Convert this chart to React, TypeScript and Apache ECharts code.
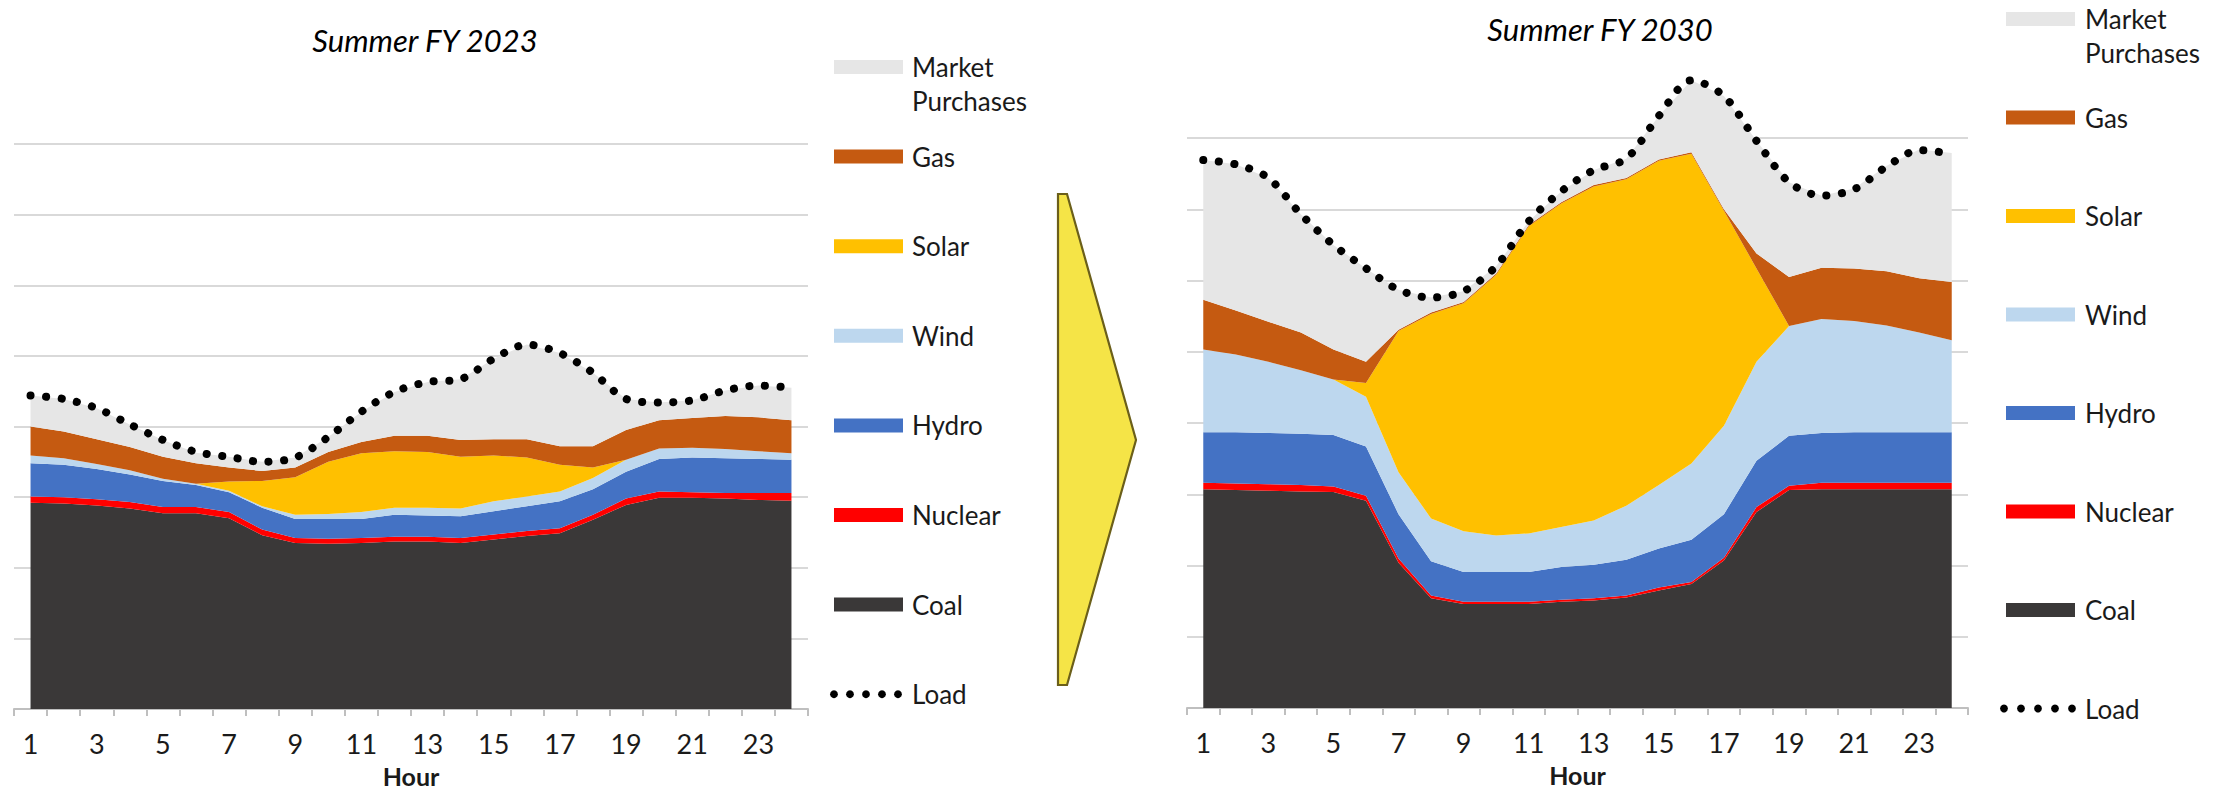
import React, { useEffect, useRef } from 'react';
import * as echarts from 'echarts';

// ---------- data ----------
const hours = ['1','2','3','4','5','6','7','8','9','10','11','12','13','14','15','16','17','18','19','20','21','22','23','24'];
const seriesNames = ['Coal', 'Nuclear', 'Hydro', 'Wind', 'Solar', 'Gas', 'Market Purchases'];
const seriesColors = ['#3A3838', '#FF0000', '#4472C4', '#BDD7EE', '#FFC000', '#C55A11', '#E6E6E6'];
const legendLabels = ['Market\nPurchases', 'Gas', 'Solar', 'Wind', 'Hydro', 'Nuclear', 'Coal', 'Load'];
const legendColors = ['#E6E6E6', '#C55A11', '#FFC000', '#BDD7EE', '#4472C4', '#FF0000', '#3A3838', '#000000'];
const titles = ['Summer FY 2023', 'Summer FY 2030'];

// Summer FY 2023
const coal2023 = [2.92, 2.91, 2.88, 2.84, 2.77, 2.77, 2.70, 2.46, 2.35, 2.34, 2.35, 2.37, 2.37, 2.35, 2.40, 2.45, 2.49, 2.68, 2.89, 2.99, 2.99, 2.98, 2.96, 2.95];
const nuclear2023 = [0.09, 0.09, 0.09, 0.09, 0.09, 0.09, 0.09, 0.08, 0.07, 0.07, 0.07, 0.07, 0.07, 0.07, 0.07, 0.07, 0.07, 0.07, 0.09, 0.09, 0.08, 0.08, 0.10, 0.11];
const hydro2023 = [0.47, 0.46, 0.43, 0.39, 0.37, 0.31, 0.28, 0.31, 0.27, 0.28, 0.27, 0.31, 0.30, 0.31, 0.33, 0.35, 0.38, 0.36, 0.38, 0.46, 0.49, 0.49, 0.48, 0.47];
const wind2023 = [0.11, 0.09, 0.07, 0.06, 0.03, 0.02, 0.02, 0.02, 0.06, 0.07, 0.10, 0.10, 0.11, 0.11, 0.14, 0.14, 0.14, 0.16, 0.17, 0.15, 0.14, 0.13, 0.11, 0.09];
const solar2023 = [0, 0, 0, 0, 0, 0, 0.13, 0.36, 0.53, 0.74, 0.83, 0.80, 0.79, 0.73, 0.65, 0.55, 0.38, 0.15, 0, 0, 0, 0, 0, 0];
const gas2023 = [0.41, 0.38, 0.35, 0.33, 0.31, 0.29, 0.20, 0.14, 0.14, 0.14, 0.16, 0.22, 0.23, 0.24, 0.23, 0.26, 0.26, 0.30, 0.42, 0.40, 0.42, 0.47, 0.48, 0.47];
const market2023 = [0.44, 0.46, 0.44, 0.32, 0.24, 0.15, 0.15, 0.13, 0.14, 0.21, 0.43, 0.62, 0.76, 0.86, 1.14, 1.34, 1.32, 1.04, 0.44, 0.25, 0.25, 0.36, 0.45, 0.46];
const load2023 = [4.44, 4.39, 4.26, 4.03, 3.81, 3.64, 3.57, 3.50, 3.56, 3.85, 4.21, 4.49, 4.63, 4.67, 4.96, 5.16, 5.04, 4.76, 4.39, 4.34, 4.37, 4.51, 4.58, 4.55];

// Summer FY 2030
const coal2030 = [3.07, 3.06, 3.05, 3.04, 3.03, 2.91, 2.04, 1.54, 1.46, 1.46, 1.46, 1.49, 1.51, 1.55, 1.65, 1.74, 2.07, 2.75, 3.06, 3.07, 3.07, 3.07, 3.07, 3.07];
const nuclear2030 = [0.09, 0.09, 0.09, 0.09, 0.08, 0.07, 0.06, 0.04, 0.03, 0.03, 0.03, 0.03, 0.03, 0.03, 0.04, 0.03, 0.04, 0.07, 0.06, 0.09, 0.09, 0.09, 0.09, 0.09];
const hydro2030 = [0.71, 0.72, 0.72, 0.72, 0.72, 0.69, 0.62, 0.48, 0.42, 0.42, 0.42, 0.46, 0.47, 0.50, 0.55, 0.59, 0.61, 0.65, 0.70, 0.70, 0.71, 0.71, 0.71, 0.71];
const wind2030 = [1.16, 1.09, 1.00, 0.89, 0.78, 0.70, 0.59, 0.60, 0.57, 0.51, 0.54, 0.56, 0.62, 0.76, 0.89, 1.07, 1.24, 1.39, 1.54, 1.60, 1.56, 1.50, 1.40, 1.29];
const solar2030 = [0, 0, 0, 0, 0, 0.19, 1.98, 2.87, 3.20, 3.66, 4.31, 4.54, 4.69, 4.58, 4.55, 4.35, 3.02, 1.31, 0, 0, 0, 0, 0, 0];
const gas2030 = [0.70, 0.62, 0.56, 0.53, 0.42, 0.30, 0.02, 0.02, 0.02, 0.02, 0.02, 0.02, 0.02, 0.02, 0.02, 0.02, 0.02, 0.21, 0.69, 0.72, 0.74, 0.76, 0.76, 0.82];
const market2030 = [1.96, 2.05, 2.02, 1.66, 1.47, 1.31, 0.56, 0.21, 0.15, 0.10, 0.05, 0.15, 0.21, 0.27, 0.61, 1.01, 1.59, 1.58, 1.33, 1.01, 1.12, 1.48, 1.81, 1.81];
const load2030 = [7.69, 7.63, 7.44, 6.93, 6.50, 6.17, 5.87, 5.76, 5.85, 6.20, 6.83, 7.25, 7.55, 7.71, 8.31, 8.81, 8.59, 7.96, 7.38, 7.19, 7.28, 7.60, 7.83, 7.78];

const yMin = 0;
const yMax = 8;
const yStep = 1;

// ---------- layout ----------
const FONT = 'Lato, "Open Sans", "DejaVu Sans", sans-serif';
const TEXT = '#1A1A1A';

const grids = [
  { left: 14, top: 144, width: 794, height: 568 },
  { left: 1187, top: 138, width: 781, height: 570 },
];
const titlePos = [[425, 40], [1600, 29]];
const legendPos = [
  { swatchX: 834, textX: 912, y0: 67, step: 89.6, dotX: 834, dotStep: 16 },
  { swatchX: 2006, textX: 2085, y0: 19, step: 98.5, dotX: 2004, dotStep: 17 },
];

function buildSeries(idx: number, layers: number[][], load: number[]) {
  const out: any[] = layers.map((d, i) => ({
    name: seriesNames[i],
    type: 'line',
    xAxisIndex: idx,
    yAxisIndex: idx,
    stack: 'stack' + idx,
    data: d,
    symbol: 'none',
    showSymbol: false,
    clip: false,
    lineStyle: { width: 0, color: seriesColors[i] },
    itemStyle: { color: seriesColors[i] },
    areaStyle: { color: seriesColors[i], opacity: 1 },
    z: 2,
  }));
  out.push({
    name: 'Load',
    type: 'line',
    xAxisIndex: idx,
    yAxisIndex: idx,
    data: load,
    symbol: 'none',
    showSymbol: false,
    smooth: 0.3,
    clip: false,
    lineStyle: { color: '#000', width: 8, type: [0.1, 15.5], cap: 'round' },
    z: 5,
  });
  return out;
}

function buildLegend(k: number) {
  const p = legendPos[k];
  const els: any[] = [];
  legendLabels.forEach((lab, i) => {
    const y = p.y0 + i * p.step;
    if (i === legendLabels.length - 1) {
      for (let j = 0; j < 5; j++) {
        els.push({ type: 'circle', shape: { cx: p.dotX + j * p.dotStep, cy: y, r: 3.9 }, style: { fill: '#000' } });
      }
    } else {
      els.push({ type: 'rect', shape: { x: p.swatchX, y: y - 7, width: 69, height: 14 }, style: { fill: legendColors[i] } });
    }
    const multi = lab.indexOf('\n') >= 0;
    els.push({
      type: 'text',
      x: p.textX,
      y: multi ? y - 17 : y,
      style: {
        text: lab,
        fill: TEXT,
        fontSize: 26,
        fontFamily: FONT,
        lineHeight: 34,
        align: 'left',
        textAlign: 'left',
        verticalAlign: multi ? 'top' : 'middle',
        textVerticalAlign: multi ? 'top' : 'middle',
      },
    });
  });
  return els;
}

export default function App() {
  const ref = useRef<HTMLDivElement>(null);

  useEffect(() => {
    if (!ref.current) return;
    const chart = echarts.init(ref.current, undefined, { renderer: 'svg' });

    const xAxes = grids.map((_, i) => ({
      gridIndex: i,
      type: 'category',
      data: hours,
      boundaryGap: true,
      axisLine: { lineStyle: { color: '#BFBFBF', width: 2 } },
      axisTick: { show: true, interval: 0, length: 7, lineStyle: { color: '#BFBFBF', width: 2 } },
      axisLabel: { interval: 1, margin: 21, fontSize: 27, color: TEXT, fontFamily: FONT },
      name: 'Hour',
      nameLocation: 'middle',
      nameGap: 54,
      nameTextStyle: { fontWeight: 'bold', fontSize: 25, color: TEXT, fontFamily: FONT },
      splitLine: { show: false },
    }));
    const yAxes = grids.map((_, i) => ({
      gridIndex: i,
      type: 'value',
      min: yMin,
      max: yMax,
      interval: yStep,
      axisLabel: { show: false },
      axisLine: { show: false },
      axisTick: { show: false },
      splitLine: { lineStyle: { color: '#D9D9D9', width: 2 } },
    }));

    const graphic: any[] = [];
    titles.forEach((t, i) => {
      graphic.push({
        type: 'text',
        x: titlePos[i][0],
        y: titlePos[i][1],
        style: {
          text: t,
          fill: '#000',
          fontSize: 31,
          fontStyle: 'italic',
          fontFamily: FONT,
          align: 'center',
          textAlign: 'center',
          verticalAlign: 'middle',
          textVerticalAlign: 'middle',
        },
      });
    });
    graphic.push(...buildLegend(0), ...buildLegend(1));
    graphic.push({
      type: 'polygon',
      shape: { points: [[1058, 194], [1067, 194], [1136, 440], [1067, 685], [1058, 685]] },
      style: { fill: '#F5E447', stroke: '#6B5F1A', lineWidth: 2.2 },
    });

    chart.setOption({
      animation: false,
      backgroundColor: '#FFFFFF',
      grid: grids.map((g) => ({ ...g, containLabel: false })),
      xAxis: xAxes,
      yAxis: yAxes,
      series: [
        ...buildSeries(0, [coal2023, nuclear2023, hydro2023, wind2023, solar2023, gas2023, market2023], load2023),
        ...buildSeries(1, [coal2030, nuclear2030, hydro2030, wind2030, solar2030, gas2030, market2030], load2030),
      ],
      graphic,
    });

    return () => chart.dispose();
  }, []);

  return <div ref={ref} style={{ position: 'fixed', left: 0, top: 0, width: 2224, height: 793 }} />;
}
